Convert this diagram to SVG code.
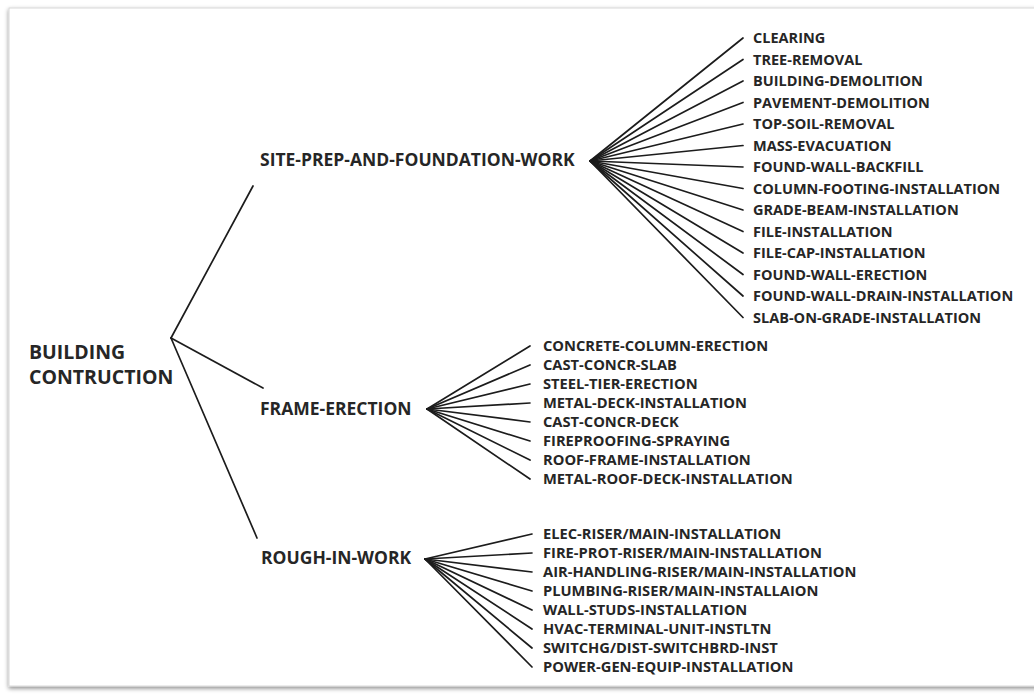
<svg xmlns="http://www.w3.org/2000/svg" width="1034" height="695" viewBox="0 0 1034 695">
<defs>
<filter id="sh" x="-5%" y="-5%" width="110%" height="110%">
<feDropShadow dx="0" dy="2" stdDeviation="2" flood-color="#000" flood-opacity="0.45"/>
</filter>
</defs>
<style>
text{font-family:"Open Sans","Liberation Sans",sans-serif;font-weight:700;fill:#262626}
.root{font-size:19.5px}
.h{font-size:17.5px}
.c{font-size:14.5px}
.m{font-size:14.7px}
#connectors line{stroke:#1c1c1c;stroke-width:1.7;stroke-linecap:round}
</style>
<rect width="1034" height="695" fill="#fff"/>
<rect x="9" y="8" width="1040" height="678" fill="#fff" stroke="#d8d8d8" stroke-width="1" filter="url(#sh)"/>
<g id="connectors">
<line x1="171" y1="338" x2="253" y2="186"/>
<line x1="171" y1="338" x2="263" y2="388"/>
<line x1="171" y1="338" x2="257" y2="538"/>
<g id="fan-site">
<line x1="590" y1="161" x2="743" y2="38"/>
<line x1="590" y1="161" x2="743" y2="59.5"/>
<line x1="590" y1="161" x2="743" y2="81"/>
<line x1="590" y1="161" x2="743" y2="102.5"/>
<line x1="590" y1="161" x2="743" y2="124"/>
<line x1="590" y1="161" x2="743" y2="145.5"/>
<line x1="590" y1="161" x2="743" y2="167"/>
<line x1="590" y1="161" x2="743" y2="188.5"/>
<line x1="590" y1="161" x2="743" y2="210"/>
<line x1="590" y1="161" x2="743" y2="231.5"/>
<line x1="590" y1="161" x2="743" y2="253"/>
<line x1="590" y1="161" x2="743" y2="274.5"/>
<line x1="590" y1="161" x2="743" y2="296"/>
<line x1="590" y1="161" x2="743" y2="317.5"/>
</g>
<g id="fan-frame">
<line x1="427" y1="409" x2="530" y2="346"/>
<line x1="427" y1="409" x2="530" y2="365"/>
<line x1="427" y1="409" x2="530" y2="384"/>
<line x1="427" y1="409" x2="530" y2="403"/>
<line x1="427" y1="409" x2="530" y2="422"/>
<line x1="427" y1="409" x2="530" y2="441"/>
<line x1="427" y1="409" x2="530" y2="460"/>
<line x1="427" y1="409" x2="530" y2="479"/>
</g>
<g id="fan-rough">
<line x1="425" y1="559" x2="532" y2="534"/>
<line x1="425" y1="559" x2="532" y2="553"/>
<line x1="425" y1="559" x2="532" y2="572"/>
<line x1="425" y1="559" x2="532" y2="591"/>
<line x1="425" y1="559" x2="532" y2="610"/>
<line x1="425" y1="559" x2="532" y2="629"/>
<line x1="425" y1="559" x2="532" y2="648"/>
<line x1="425" y1="559" x2="532" y2="667"/>
</g>
</g>
<g id="node-root"><text class="root" x="29" y="359">BUILDING</text><text class="root" x="29" y="384">CONTRUCTION</text></g>
<g id="node-site"><text class="h" x="260" y="166">SITE-PREP-AND-FOUNDATION-WORK</text></g>
<g id="node-frame"><text class="h" x="260" y="415">FRAME-ERECTION</text></g>
<g id="node-rough"><text class="h" x="261" y="564">ROUGH-IN-WORK</text></g>
<g id="site-children">
<g id="n-clearing"><text class="c" x="753" y="43">CLEARING</text></g>
<g id="n-tree"><text class="c" x="753" y="64.5">TREE-REMOVAL</text></g>
<g id="n-bdemo"><text class="c" x="753" y="86">BUILDING-DEMOLITION</text></g>
<g id="n-pdemo"><text class="c" x="753" y="107.5">PAVEMENT-DEMOLITION</text></g>
<g id="n-topsoil"><text class="c" x="753" y="129">TOP-SOIL-REMOVAL</text></g>
<g id="n-mass"><text class="c" x="753" y="150.5">MASS-EVACUATION</text></g>
<g id="n-backfill"><text class="c" x="753" y="172">FOUND-WALL-BACKFILL</text></g>
<g id="n-colfoot"><text class="c" x="753" y="193.5">COLUMN-FOOTING-INSTALLATION</text></g>
<g id="n-grade"><text class="c" x="753" y="215">GRADE-BEAM-INSTALLATION</text></g>
<g id="n-file"><text class="c" x="753" y="236.5">FILE-INSTALLATION</text></g>
<g id="n-filecap"><text class="c" x="753" y="258">FILE-CAP-INSTALLATION</text></g>
<g id="n-fwerect"><text class="c" x="753" y="279.5">FOUND-WALL-ERECTION</text></g>
<g id="n-fwdrain"><text class="c" x="753" y="301">FOUND-WALL-DRAIN-INSTALLATION</text></g>
<g id="n-slab"><text class="c" x="753" y="322.5">SLAB-ON-GRADE-INSTALLATION</text></g>
</g>
<g id="frame-children">
<g id="n-ccol"><text class="m" x="543" y="351">CONCRETE-COLUMN-ERECTION</text></g>
<g id="n-ccslab"><text class="m" x="543" y="370">CAST-CONCR-SLAB</text></g>
<g id="n-steel"><text class="m" x="543" y="389">STEEL-TIER-ERECTION</text></g>
<g id="n-mdeck"><text class="m" x="543" y="408">METAL-DECK-INSTALLATION</text></g>
<g id="n-ccdeck"><text class="m" x="543" y="427">CAST-CONCR-DECK</text></g>
<g id="n-fireproof"><text class="m" x="543" y="446">FIREPROOFING-SPRAYING</text></g>
<g id="n-roofframe"><text class="m" x="543" y="465">ROOF-FRAME-INSTALLATION</text></g>
<g id="n-mroof"><text class="m" x="543" y="484">METAL-ROOF-DECK-INSTALLATION</text></g>
</g>
<g id="rough-children">
<g id="n-elec"><text class="m" x="543" y="539">ELEC-RISER/MAIN-INSTALLATION</text></g>
<g id="n-fireprot"><text class="m" x="543" y="558">FIRE-PROT-RISER/MAIN-INSTALLATION</text></g>
<g id="n-air"><text class="m" x="543" y="577">AIR-HANDLING-RISER/MAIN-INSTALLATION</text></g>
<g id="n-plumb"><text class="m" x="543" y="596">PLUMBING-RISER/MAIN-INSTALLAION</text></g>
<g id="n-wall"><text class="m" x="543" y="615">WALL-STUDS-INSTALLATION</text></g>
<g id="n-hvac"><text class="m" x="543" y="634">HVAC-TERMINAL-UNIT-INSTLTN</text></g>
<g id="n-switch"><text class="m" x="543" y="653">SWITCHG/DIST-SWITCHBRD-INST</text></g>
<g id="n-power"><text class="m" x="543" y="672">POWER-GEN-EQUIP-INSTALLATION</text></g>
</g>
</svg>
